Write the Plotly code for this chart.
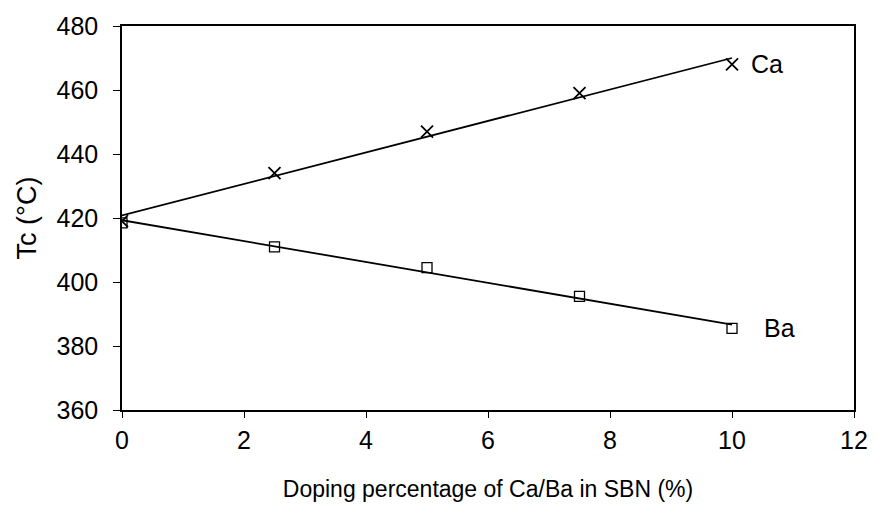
import numpy as np
import plotly.graph_objects as go

# Doping level (%) and Curie temperature Tc (°C)
doping = [0, 2.5, 5, 7.5, 10]
tc_ca = [419, 434, 447, 459, 468]
tc_ba = [418.5, 411, 404.5, 395.5, 385.5]

x_ticks = [0, 2, 4, 6, 8, 10, 12]
y_ticks = [360, 380, 400, 420, 440, 460, 480]

FONT = "Liberation Sans, Arial, sans-serif"

fig = go.Figure()

# linear trend lines through each series
for ys in (tc_ca, tc_ba):
    slope, icpt = np.polyfit(doping, ys, 1)
    xs = [doping[0], doping[-1]]
    fig.add_trace(go.Scatter(
        x=xs, y=[icpt + slope * v for v in xs], mode="lines",
        line=dict(color="black", width=1.8), showlegend=False, hoverinfo="skip"))

fig.add_trace(go.Scatter(
    x=doping, y=tc_ca, mode="markers", name="Ca",
    marker=dict(symbol="x-thin-open", size=12, color="black",
                line=dict(color="black", width=1.8)),
    showlegend=False))
fig.add_trace(go.Scatter(
    x=doping, y=tc_ba, mode="markers", name="Ba",
    marker=dict(symbol="square-open", size=10, color="black",
                line=dict(color="black", width=1.3)),
    showlegend=False))

# series labels at line ends
fig.add_annotation(x=doping[-1], y=tc_ca[-1], text="Ca", showarrow=False,
                   xanchor="left", xshift=17, font=dict(family=FONT, size=25, color="black"))
fig.add_annotation(x=doping[-1], y=tc_ba[-1], text="Ba", showarrow=False,
                   xanchor="left", xshift=30, font=dict(family=FONT, size=25, color="black"))

fig.update_xaxes(
    range=[0, 12], tickvals=x_ticks, ticks="outside", ticklen=6, tickwidth=1.2,
    tickcolor="black", showline=True, linecolor="black", linewidth=1.5, mirror=True,
    showgrid=False, zeroline=False, ticklabelstandoff=1,
    tickfont=dict(family=FONT, size=25, color="black"),
    title=dict(text="Doping percentage of Ca/Ba in SBN (%)", standoff=28,
               font=dict(family=FONT, size=23, color="black")))
fig.update_yaxes(
    range=[360, 480], tickvals=y_ticks, ticks="outside", ticklen=7, tickwidth=1.2,
    tickcolor="black", showline=True, linecolor="black", linewidth=1.5, mirror=True,
    showgrid=False, zeroline=False, ticklabelstandoff=10,
    tickfont=dict(family=FONT, size=25, color="black"),
    title=dict(text="Tc (°C)", standoff=12,
               font=dict(family=FONT, size=27, color="black")))

fig.update_layout(
    width=880, height=519,
    margin=dict(l=122, r=17, t=24, b=109),
    plot_bgcolor="white", paper_bgcolor="white",
)

fig.write_html("out.html")
